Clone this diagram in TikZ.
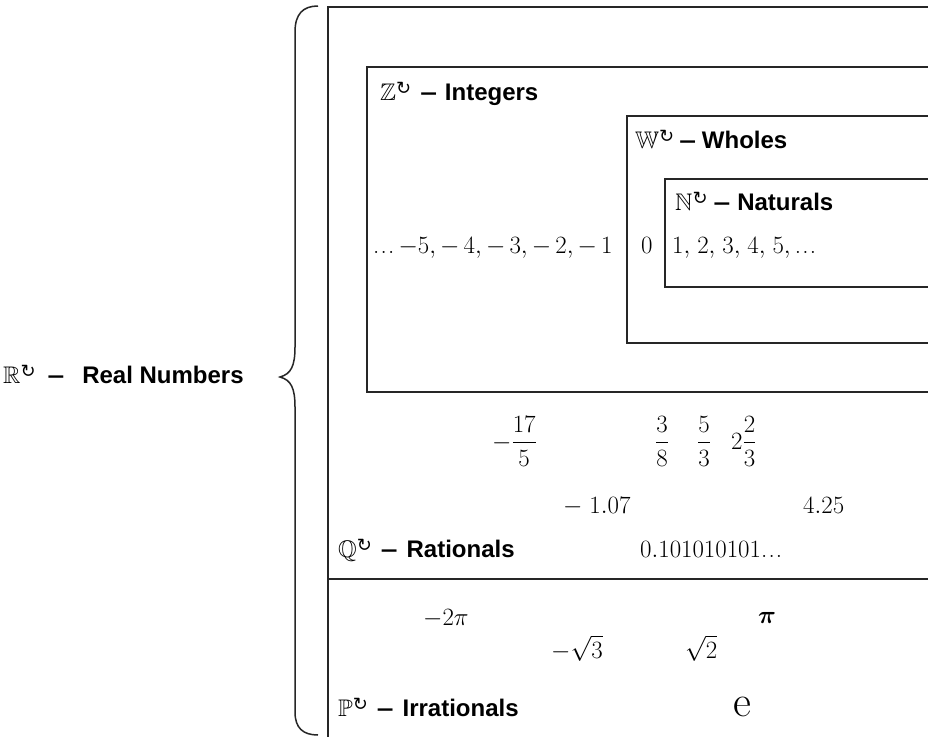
\documentclass[tikz,border=0pt]{standalone}
\usepackage{amsmath,amssymb}
\usepackage{graphicx}
\usepackage{fontspec}
\newfontfamily\lsans{Liberation Sans}
\newfontfamily\dejavu{DejaVu Sans}
\newcommand\setlbl[4]{$\mathbb{#3}$\raisebox{6pt}{\dejavu\fontsize{18}{18}\selectfont ↻}\hspace{#1}{\lsans\bfseries\scalebox{1.25}[1]{–}\hspace{#2}#4}}
\newcommand\dts{.\kern1.2pt.\kern1.2pt.}
\begin{document}
\begin{tikzpicture}[x=1pt,y=-1pt,
  setbox/.style={draw=black!85, line width=1.9pt},
  bracepath/.style={draw=black!85, line width=1.5pt},
  lab/.style={inner sep=0pt, anchor=base west, font=\fontsize{24}{28}\selectfont},
  num/.style={inner sep=0pt, anchor=base west, font=\fontsize{25}{30}\selectfont}]
\useasboundingbox (0,0) rectangle (928,736);
\clip (0,0) rectangle (928,736);
\fill[white] (0,0) rectangle (928,736);
% boxes
\draw[setbox] (328,7) rectangle (960,760);
\draw[setbox] (367,67) rectangle (960,392);
\draw[setbox] (627,116) rectangle (960,343);
\draw[setbox] (665,179) rectangle (960,287);
\coordinate (divL) at (328,579);
\coordinate (divR) at (960,579);
\draw[setbox] (divL) -- (divR);
% brace
\draw[bracepath] (318,6) .. controls (303,6) and (295,14) .. (295,32) -- (295,347)
  .. controls (295,366) and (291,374) .. (280,377)
  .. controls (291,380) and (295,388) .. (295,407) -- (295,712)
  .. controls (295,728) and (303,735) .. (318,735);
% labels
\node[lab] (R) at (3,383) {\setlbl{12pt}{18pt}{R}{Real Numbers}};
\node[lab] (Z) at (380,100) {\setlbl{9pt}{8pt}{Z}{Integers}};
\node[lab] (W) at (635,148) {\setlbl{5pt}{6pt}{W}{Wholes}};
\node[lab] (N) at (675,210) {\setlbl{6pt}{7pt}{N}{Naturals}};
\node[lab] (Q) at (338,557) {\setlbl{9pt}{9pt}{Q}{Rationals}};
\node[lab] (P) at (338,716) {\setlbl{9pt}{9pt}{P}{Irrationals}};
% integers
\node[num] (negs) at (373,253) {\dts\,$-5,{-}\,4,{-}\,3,{-}\,2,{-}\,1$};
\node[num] (zero) at (641,253) {$0$};
\node[num] (nats) at (672,253) {$1,\mkern2mu 2,\mkern2mu 3,\mkern2mu 4,\mkern2mu 5,$\,\dts};
% rationals
\node[num] (f1) at (492,449) {$-\dfrac{17}{5}$};
\node[num] (f2) at (655,449) {$\dfrac{3}{8}$};
\node[num] (f3) at (697,449) {$\dfrac{5}{3}$};
\node[num] (f4) at (731,449) {$2\dfrac{2}{3}$};
\node[num] (d1) at (563,513) {${-}\;1.07$};
\node[num] (d2) at (803,513) {$4.25$};
\node[num] (d3) at (640,557) {$0.101010101$\dts};
% irrationals
\node[num] (i1) at (423,625) {$-2\pi$};
\node[inner sep=0pt, anchor=base west, font=\fontsize{36}{40}\selectfont] (i2) at (758,623) {$\boldsymbol{\pi}$};
\node[num] (i3) at (551,658) {$-\sqrt{3}$};
\node[num] (i4) at (685,658) {$\sqrt{2}$};
\node[inner sep=0pt, anchor=base west, font=\fontsize{44}{48}\selectfont] (i5) at (733,716) {e};
\end{tikzpicture}
\end{document}
